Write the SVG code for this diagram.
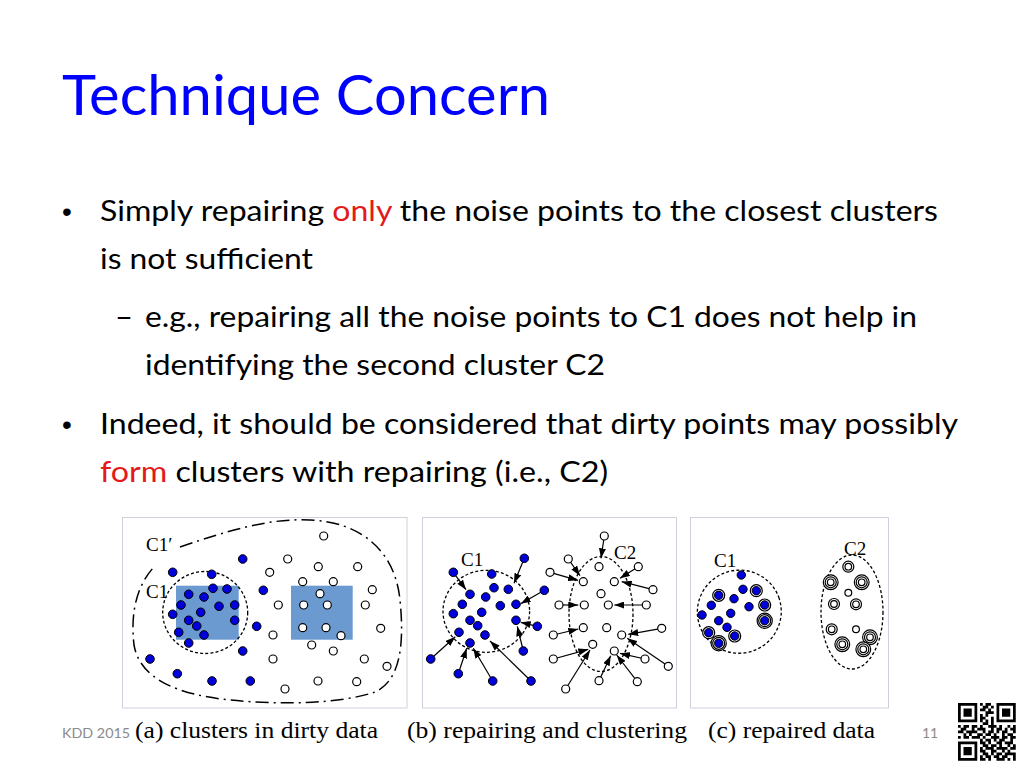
<svg xmlns="http://www.w3.org/2000/svg" width="1024" height="768" viewBox="0 0 1024 768">
<defs>
<style>
.title{font-family:Lato,"Open Sans",sans-serif;font-size:56px;fill:#0000ff}
.body{font-family:Lato,"Open Sans",sans-serif;font-size:28px;fill:#000}
.red{fill:#e31a1c}
.bul{font-family:"Liberation Sans",Arial,sans-serif;font-size:28px;fill:#000}
.lab{font-family:"Liberation Serif","Times New Roman",serif;font-size:19px;fill:#000}
.cap{font-family:"Liberation Serif","Times New Roman",serif;font-size:23px;fill:#000}
.foot{font-family:Lato,"Open Sans",sans-serif;font-size:14px;fill:#8a8a8a}
.frame{fill:#fff;stroke:#cfd2dc;stroke-width:1}
.f{fill:#0000dd;stroke:#000;stroke-width:1}
.o{fill:#fff;stroke:#000;stroke-width:1.2}
.dot{fill:none;stroke:#000;stroke-width:1.3;stroke-dasharray:3 2.2}
.dashdot{fill:none;stroke:#000;stroke-width:1.5;stroke-dasharray:13 5 2 5}
.arr{stroke:#000;stroke-width:1.2;fill:none;marker-end:url(#ah)}
.box{fill:#6a9ad0}
</style>
<marker id="ah" markerUnits="userSpaceOnUse" markerWidth="10" markerHeight="7" refX="10" refY="3.5" orient="auto">
<path d="M0,0 L10,3.5 L0,7 z" fill="#000"/>
</marker>
</defs>
<rect width="1024" height="768" fill="#fff"/>

<g id="title"><text class="title" x="62" y="115" textLength="488" lengthAdjust="spacingAndGlyphs">Technique Concern</text></g>

<g id="bullets">
<text class="bul" x="62" y="221">•</text>
<text class="body" x="100" y="221" textLength="838" lengthAdjust="spacingAndGlyphs">Simply repairing <tspan class="red">only</tspan> the noise points to the closest clusters</text>
<text class="body" x="100" y="269" textLength="213" lengthAdjust="spacingAndGlyphs">is not sufficient</text>
<text class="body" x="115" y="327" textLength="18" lengthAdjust="spacingAndGlyphs">–</text>
<text class="body" x="145" y="327" textLength="772" lengthAdjust="spacingAndGlyphs">e.g., repairing all the noise points to C1 does not help in</text>
<text class="body" x="145" y="375" textLength="460" lengthAdjust="spacingAndGlyphs">identifying the second cluster C2</text>
<text class="bul" x="62" y="434">•</text>
<text class="body" x="100" y="434" textLength="858" lengthAdjust="spacingAndGlyphs">Indeed, it should be considered that dirty points may possibly</text>
<text class="body" x="100" y="482" textLength="508" lengthAdjust="spacingAndGlyphs"><tspan class="red">form</tspan> clusters with repairing (i.e., C2)</text>
</g>

<g id="panel-a">
<rect class="frame" x="122.5" y="517.5" width="284.5" height="190.5"/>
<rect class="box" x="176" y="585.7" width="62.7" height="54"/>
<rect class="box" x="291" y="585.7" width="61.7" height="54"/>
<path class="dashdot" d="M180,547 C230,530 270,518 310,520 C360,522 395,550 400,600 C404,640 402,680 375,692 C340,704 280,705 230,700 C180,695 140,680 134,645 C130,610 138,585 153,568"/>
<ellipse class="dot" cx="205.2" cy="612.5" rx="42.5" ry="41"/>
<text class="lab" x="146" y="551">C1′</text>
<text class="lab" x="146" y="598">C1</text>
<g id="a-dirty-blue">
<circle class="f" r="4.3" cx="242.7" cy="559"/><circle class="f" r="4.3" cx="172.7" cy="572.3"/><circle class="f" r="4.3" cx="211.7" cy="574.3"/><circle class="f" r="4.3" cx="213" cy="588.3"/><circle class="f" r="4.3" cx="227" cy="589"/><circle class="f" r="4.3" cx="263.3" cy="590.3"/><circle class="f" r="4.3" cx="188.7" cy="594.3"/><circle class="f" r="4.3" cx="204" cy="597"/><circle class="f" r="4.3" cx="181" cy="605"/><circle class="f" r="4.3" cx="219" cy="606.3"/><circle class="f" r="4.3" cx="234.7" cy="605"/><circle class="f" r="4.3" cx="172.7" cy="614.3"/><circle class="f" r="4.3" cx="200.7" cy="612.3"/><circle class="f" r="4.3" cx="188.7" cy="620.3"/><circle class="f" r="4.3" cx="234.7" cy="620.3"/><circle class="f" r="4.3" cx="196.7" cy="626"/><circle class="f" r="4.3" cx="256.7" cy="626.3"/><circle class="f" r="4.3" cx="178.7" cy="632.3"/><circle class="f" r="4.3" cx="204" cy="635"/><circle class="f" r="4.3" cx="188.7" cy="643"/><circle class="f" r="4.3" cx="242.7" cy="651"/><circle class="f" r="4.3" cx="150" cy="659"/><circle class="f" r="4.3" cx="177.3" cy="673.7"/><circle class="f" r="4.3" cx="212" cy="681"/><circle class="f" r="4.3" cx="250.3" cy="681"/>
</g>
<g id="a-dirty-open">
<circle class="o" r="4" cx="323.7" cy="536"/><circle class="o" r="4" cx="287.7" cy="559"/><circle class="o" r="4" cx="318.3" cy="566.7"/><circle class="o" r="4" cx="357.7" cy="566.7"/><circle class="o" r="4" cx="269.7" cy="572.3"/><circle class="o" r="4" cx="302.7" cy="581.7"/><circle class="o" r="4" cx="333.3" cy="581.7"/><circle class="o" r="4" cx="372.3" cy="589.7"/><circle class="o" r="4" cx="320" cy="593.7"/><circle class="o" r="4" cx="278.3" cy="605"/><circle class="o" r="4" cx="303.7" cy="605"/><circle class="o" r="4" cx="327.3" cy="605"/><circle class="o" r="4" cx="365.3" cy="605"/><circle class="o" r="4" cx="302.7" cy="627.7"/><circle class="o" r="4" cx="326" cy="627.7"/><circle class="o" r="4" cx="380.7" cy="628.3"/><circle class="o" r="4" cx="273" cy="635"/><circle class="o" r="4" cx="341" cy="635.7"/><circle class="o" r="4" cx="311.7" cy="645"/><circle class="o" r="4" cx="333.3" cy="651"/><circle class="o" r="4" cx="273" cy="659"/><circle class="o" r="4" cx="364.3" cy="659"/><circle class="o" r="4" cx="387" cy="666.3"/><circle class="o" r="4" cx="318" cy="681"/><circle class="o" r="4" cx="356.7" cy="681.7"/><circle class="o" r="4" cx="285" cy="689"/>
</g>
</g>

<g id="panel-b">
<rect class="frame" x="422.5" y="517.5" width="254" height="190.5"/>
<ellipse class="dot" cx="486.3" cy="611.3" rx="43.3" ry="41"/>
<ellipse class="dot" cx="601" cy="614" rx="32" ry="57.5"/>
<text class="lab" x="461" y="566">C1</text>
<text class="lab" x="614" y="559">C2</text>
</g>

<g id="connectors">
<line class="arr" x1="524.3" y1="558.3" x2="514" y2="583.3"/>
<line class="arr" x1="453.3" y1="572.3" x2="466" y2="589.7"/>
<line class="arr" x1="544.3" y1="590.3" x2="520.7" y2="603.7"/>
<line class="arr" x1="537.3" y1="626.3" x2="520.7" y2="622.3"/>
<line class="arr" x1="523.3" y1="651" x2="517.3" y2="626.3"/>
<line class="arr" x1="430.7" y1="659" x2="455.3" y2="636.7"/>
<line class="arr" x1="458.3" y1="673.7" x2="466.7" y2="648.3"/>
<line class="arr" x1="492.7" y1="681" x2="473.3" y2="648.3"/>
<line class="arr" x1="531" y1="681" x2="490" y2="641"/>
<line class="arr" x1="604.3" y1="536" x2="601" y2="558.3"/>
<line class="arr" x1="568.3" y1="559" x2="580" y2="575.7"/>
<line class="arr" x1="550" y1="572.3" x2="578" y2="580.3"/>
<line class="arr" x1="638.3" y1="566.7" x2="620" y2="578.3"/>
<line class="arr" x1="653" y1="589.7" x2="621.7" y2="581.7"/>
<line class="arr" x1="559" y1="605" x2="578.3" y2="605"/>
<line class="arr" x1="646.3" y1="605" x2="614.3" y2="605"/>
<line class="arr" x1="553.3" y1="635" x2="578.3" y2="629"/>
<line class="arr" x1="661.7" y1="628.3" x2="628.3" y2="634.3"/>
<line class="arr" x1="553.3" y1="659" x2="588.3" y2="649.3"/>
<line class="arr" x1="565.7" y1="689" x2="590" y2="650"/>
<line class="arr" x1="668.3" y1="666.3" x2="627.3" y2="638.3"/>
<line class="arr" x1="645" y1="659" x2="620" y2="653.3"/>
<line class="arr" x1="599" y1="680.7" x2="610.7" y2="655.7"/>
<line class="arr" x1="637.3" y1="681.7" x2="616.7" y2="655"/>
</g>

<g id="b-points">
<g id="b-blue">
<circle class="f" r="4.3" cx="524.3" cy="558.3"/><circle class="f" r="4.3" cx="453.3" cy="572.3"/><circle class="f" r="4.3" cx="491.7" cy="574"/><circle class="f" r="4.3" cx="494" cy="587.7"/><circle class="f" r="4.3" cx="508.3" cy="589.3"/><circle class="f" r="4.3" cx="544.3" cy="590.3"/><circle class="f" r="4.3" cx="470" cy="594.3"/><circle class="f" r="4.3" cx="485.7" cy="597"/><circle class="f" r="4.3" cx="462.3" cy="604.3"/><circle class="f" r="4.3" cx="500.3" cy="605.7"/><circle class="f" r="4.3" cx="516" cy="604.3"/><circle class="f" r="4.3" cx="453.3" cy="613.7"/><circle class="f" r="4.3" cx="481.7" cy="612.3"/><circle class="f" r="4.3" cx="470" cy="620.3"/><circle class="f" r="4.3" cx="516" cy="620.3"/><circle class="f" r="4.3" cx="477.7" cy="625.7"/><circle class="f" r="4.3" cx="537.3" cy="626.3"/><circle class="f" r="4.3" cx="459" cy="632.3"/><circle class="f" r="4.3" cx="485" cy="635"/><circle class="f" r="4.3" cx="470" cy="643"/><circle class="f" r="4.3" cx="523.3" cy="651"/><circle class="f" r="4.3" cx="430.7" cy="659"/><circle class="f" r="4.3" cx="458.3" cy="673.7"/><circle class="f" r="4.3" cx="492.7" cy="681"/><circle class="f" r="4.3" cx="531" cy="681"/>
</g>
<g id="b-open">
<circle class="o" r="4" cx="604.3" cy="536"/><circle class="o" r="4" cx="568.3" cy="559"/><circle class="o" r="4" cx="599" cy="566.7"/><circle class="o" r="4" cx="638.3" cy="566.7"/><circle class="o" r="4" cx="550" cy="572.3"/><circle class="o" r="4" cx="583.3" cy="581.7"/><circle class="o" r="4" cx="614.3" cy="581.7"/><circle class="o" r="4" cx="653" cy="589.7"/><circle class="o" r="4" cx="601" cy="593.7"/><circle class="o" r="4" cx="559" cy="605"/><circle class="o" r="4" cx="584.3" cy="605"/><circle class="o" r="4" cx="608.3" cy="605"/><circle class="o" r="4" cx="646.3" cy="605"/><circle class="o" r="4" cx="583.3" cy="627.7"/><circle class="o" r="4" cx="606.7" cy="627.7"/><circle class="o" r="4" cx="661.7" cy="628.3"/><circle class="o" r="4" cx="553.3" cy="635"/><circle class="o" r="4" cx="621.7" cy="635"/><circle class="o" r="4" cx="592.7" cy="644.3"/><circle class="o" r="4" cx="614.3" cy="651"/><circle class="o" r="4" cx="553.3" cy="659"/><circle class="o" r="4" cx="645" cy="659"/><circle class="o" r="4" cx="668.3" cy="666.3"/><circle class="o" r="4" cx="599" cy="680.7"/><circle class="o" r="4" cx="637.3" cy="681.7"/><circle class="o" r="4" cx="565.7" cy="689"/>
</g>
</g>

<g id="panel-c">
<rect class="frame" x="690.5" y="517.5" width="198" height="190.5"/>
<ellipse class="dot" cx="739.3" cy="611.7" rx="42" ry="41.5" transform="rotate(-20 739.3 611.7)"/>
<ellipse class="dot" cx="852" cy="612" rx="31" ry="57"/>
<text class="lab" x="714" y="567">C1</text>
<text class="lab" x="844" y="555">C2</text>
<g id="c-rings">
<circle class="o" r="6" cx="756.3" cy="590.7"/><circle class="o" r="6" cx="718.7" cy="595.3"/><circle class="o" r="6" cx="764.7" cy="605"/>
<circle class="o" r="7.6" cx="764.7" cy="620.7"/><circle class="o" r="6" cx="764.7" cy="620.7"/>
<circle class="o" r="6" cx="708.7" cy="632.7"/><circle class="o" r="6" cx="734.7" cy="636"/>
<circle class="o" r="7.6" cx="718.7" cy="643.3"/><circle class="o" r="6" cx="718.7" cy="643.3"/>
</g>
<g id="c-blue">
<circle class="f" r="4.2" cx="741.3" cy="575"/><circle class="f" r="4.2" cx="743" cy="589.3"/><circle class="f" r="4.2" cx="756.3" cy="590.7"/><circle class="f" r="4.2" cx="718.7" cy="595.3"/><circle class="f" r="4.2" cx="734" cy="598.7"/><circle class="f" r="4.2" cx="711.3" cy="605.3"/><circle class="f" r="4.2" cx="749" cy="606.7"/><circle class="f" r="4.2" cx="764.7" cy="605"/><circle class="f" r="4.2" cx="702" cy="615"/><circle class="f" r="4.2" cx="730.7" cy="613.3"/><circle class="f" r="4.2" cx="718.7" cy="620.7"/><circle class="f" r="4.2" cx="764.7" cy="620.7"/><circle class="f" r="4.2" cx="727" cy="627.3"/><circle class="f" r="4.2" cx="708.7" cy="632.7"/><circle class="f" r="4.2" cx="734.7" cy="636"/><circle class="f" r="4.2" cx="718.7" cy="643.3"/>
</g>
<g id="c-open">
<circle class="o" r="5.5" cx="848.3" cy="566.7"/><circle class="o" r="3.3" cx="848.3" cy="566.7"/>
<circle class="o" r="7.4" cx="830.7" cy="582.3"/><circle class="o" r="5.5" cx="830.7" cy="582.3"/><circle class="o" r="3.3" cx="830.7" cy="582.3"/>
<circle class="o" r="7.4" cx="861.7" cy="582.3"/><circle class="o" r="5.5" cx="861.7" cy="582.3"/><circle class="o" r="3.3" cx="861.7" cy="582.3"/>
<circle class="o" r="3.4" cx="848.3" cy="592.7"/>
<circle class="o" r="5.5" cx="834" cy="604"/><circle class="o" r="3.3" cx="834" cy="604"/>
<circle class="o" r="5.5" cx="856" cy="604.3"/><circle class="o" r="3.3" cx="856" cy="604.3"/>
<circle class="o" r="5.5" cx="831.7" cy="629.3"/><circle class="o" r="3.3" cx="831.7" cy="629.3"/>
<circle class="o" r="3.4" cx="856" cy="629.3"/>
<circle class="o" r="7.4" cx="870" cy="637.3"/><circle class="o" r="5.5" cx="870" cy="637.3"/><circle class="o" r="3.3" cx="870" cy="637.3"/>
<circle class="o" r="7.4" cx="842.3" cy="644.3"/><circle class="o" r="5.5" cx="842.3" cy="644.3"/><circle class="o" r="3.3" cx="842.3" cy="644.3"/>
<circle class="o" r="7.4" cx="863.3" cy="649.3"/><circle class="o" r="5.5" cx="863.3" cy="649.3"/><circle class="o" r="3.3" cx="863.3" cy="649.3"/>
</g>
</g>

<g id="captions">
<text class="cap" x="135" y="738" textLength="243" lengthAdjust="spacingAndGlyphs">(a) clusters in dirty data</text>
<text class="cap" x="407" y="738" textLength="280" lengthAdjust="spacingAndGlyphs">(b) repairing and clustering</text>
<text class="cap" x="708" y="738" textLength="167" lengthAdjust="spacingAndGlyphs">(c) repaired data</text>
</g>

<g id="footer">
<text class="foot" x="62" y="738" textLength="68" lengthAdjust="spacingAndGlyphs">KDD 2015</text>
<text class="foot" x="922" y="738" font-size="13">11</text>
</g>

<g id="qr" transform="translate(958 703) scale(2.75)" fill="#000">
<path fill-rule="evenodd" d="M0 0h7v7h-7z M1 1h5v5h-5z M2 2h3v3h-3z M14 0h7v7h-7z M15 1h5v5h-5z M16 2h3v3h-3z M0 14h7v7h-7z M1 15h5v5h-5z M2 16h3v3h-3z"/>
<path d="M8 0h1v1h-1zM10 0h2v1h-2zM9 1h2v1h-2zM12 1h1v1h-1zM8 2h2v1h-2zM11 2h1v1h-1zM10 3h3v1h-3zM8 4h1v1h-1zM10 4h1v1h-1zM8 5h2v1h-2zM12 5h1v1h-1zM8 6h1v1h-1zM10 6h1v1h-1zM12 6h1v1h-1zM9 7h2v1h-2zM12 7h1v1h-1zM0 8h1v1h-1zM2 8h2v1h-2zM5 8h2v1h-2zM8 8h1v1h-1zM11 8h3v1h-3zM15 8h1v1h-1zM18 8h1v1h-1zM20 8h1v1h-1zM1 9h2v1h-2zM5 9h1v1h-1zM7 9h3v1h-3zM12 9h1v1h-1zM14 9h2v1h-2zM17 9h1v1h-1zM19 9h2v1h-2zM0 10h2v1h-2zM3 10h4v1h-4zM9 10h1v1h-1zM11 10h2v1h-2zM14 10h1v1h-1zM16 10h2v1h-2zM20 10h1v1h-1zM2 11h1v1h-1zM4 11h1v1h-1zM7 11h2v1h-2zM10 11h2v1h-2zM13 11h1v1h-1zM16 11h1v1h-1zM18 11h2v1h-2zM0 12h1v1h-1zM2 12h2v1h-2zM5 12h3v1h-3zM9 12h1v1h-1zM12 12h3v1h-3zM16 12h2v1h-2zM19 12h2v1h-2zM8 13h1v1h-1zM10 13h2v1h-2zM13 13h1v1h-1zM15 13h2v1h-2zM19 13h1v1h-1zM8 14h2v1h-2zM11 14h1v1h-1zM14 14h2v1h-2zM17 14h3v1h-3zM9 15h2v1h-2zM12 15h2v1h-2zM15 15h1v1h-1zM18 15h1v1h-1zM20 15h1v1h-1zM8 16h1v1h-1zM10 16h3v1h-3zM14 16h4v1h-4zM19 16h2v1h-2zM8 17h2v1h-2zM12 17h2v1h-2zM16 17h1v1h-1zM18 17h1v1h-1zM9 18h2v1h-2zM12 18h1v1h-1zM14 18h2v1h-2zM17 18h4v1h-4zM8 19h1v1h-1zM10 19h2v1h-2zM13 19h2v1h-2zM16 19h2v1h-2zM20 19h1v1h-1zM8 20h2v1h-2zM11 20h1v1h-1zM14 20h3v1h-3zM18 20h1v1h-1zM20 20h1v1h-1z"/>
</g>
</svg>
